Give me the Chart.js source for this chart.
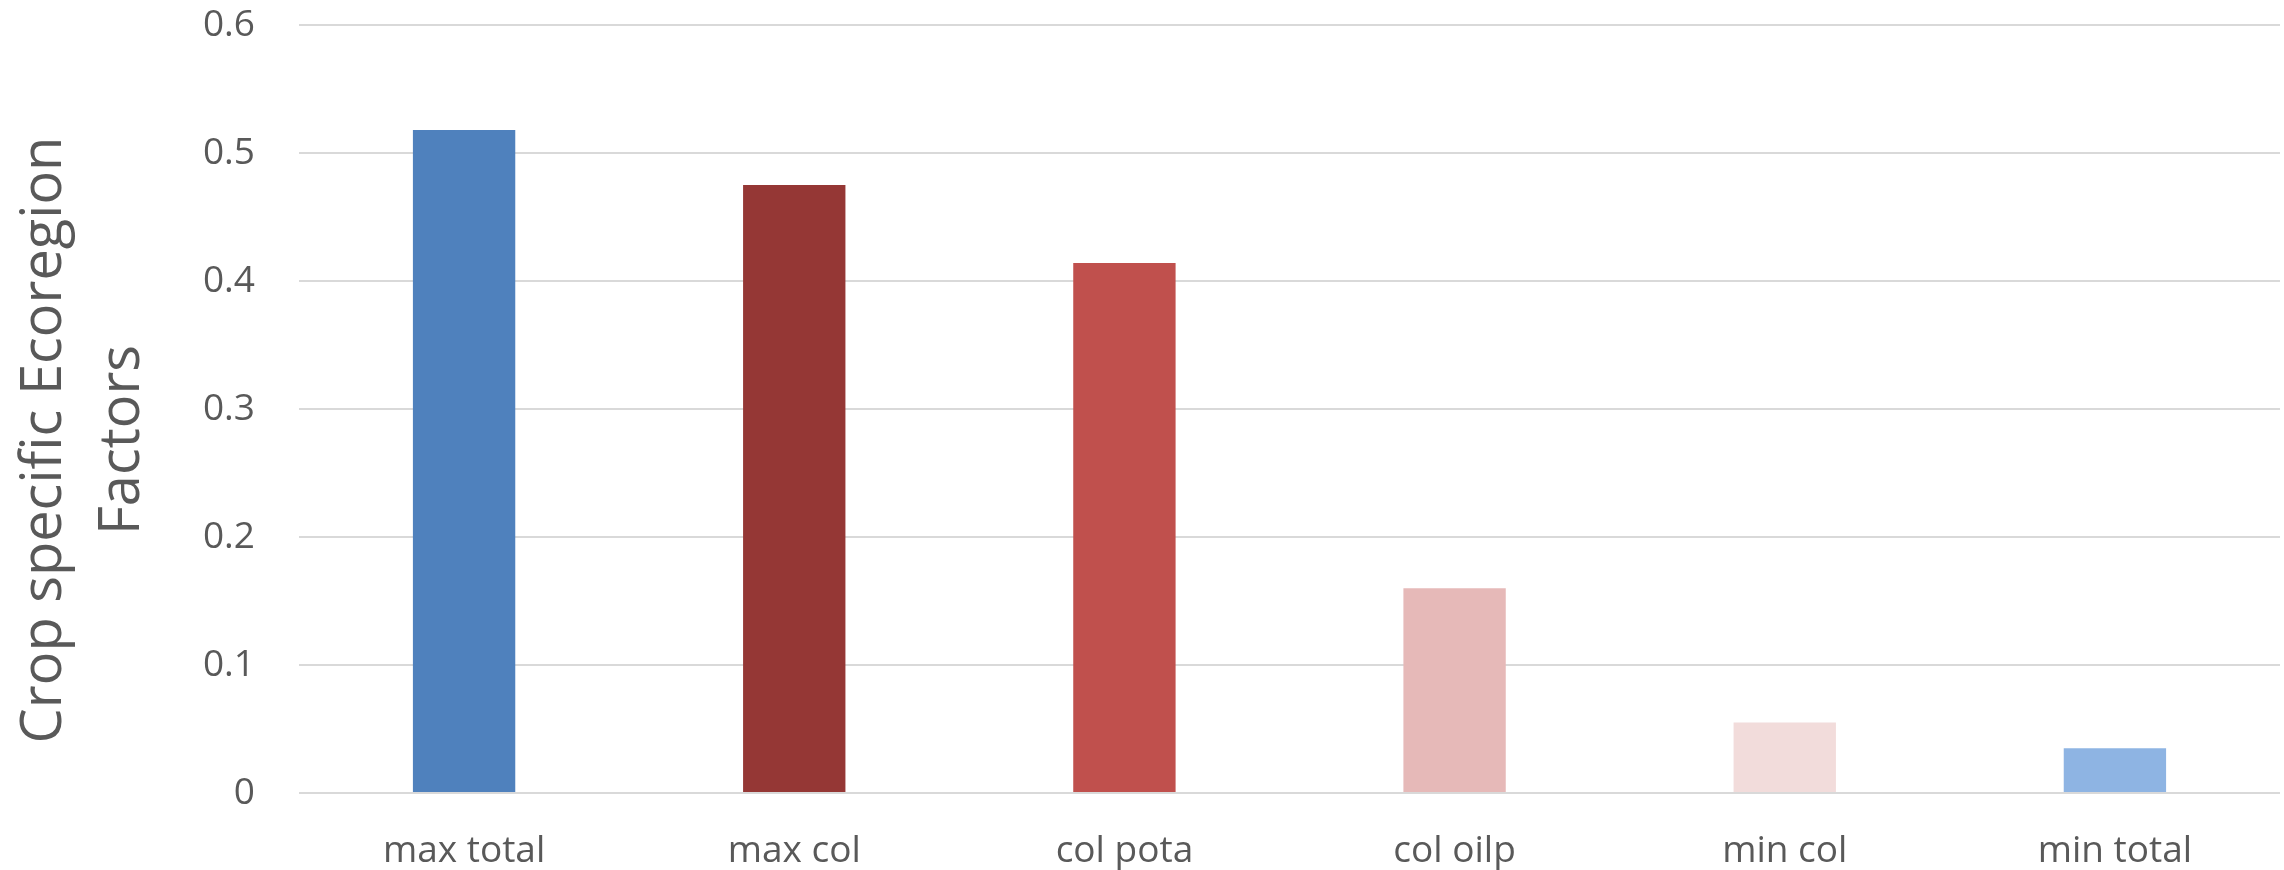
<!DOCTYPE html>
<html>
<head>
<meta charset="utf-8">
<title>Crop specific Ecoregion Factors</title>
<script src="https://cdn.jsdelivr.net/npm/chart.js@4.4.1/dist/chart.umd.min.js"></script>
<style>
  html, body { margin: 0; padding: 0; background: #ffffff; }
  #wrap { width: 2284px; height: 870px; }
  canvas { display: block; }
</style>
</head>
<body>
<div id="wrap"><canvas id="chart" width="2284" height="870"></canvas></div>
<script>
// Categories and factor values
const categories = ['max total', 'max col', 'col pota', 'col oilp', 'min col', 'min total'];
const factorValues = [0.518, 0.475, 0.414, 0.160, 0.055, 0.035];
const barColors = ['#4F81BD', '#953735', '#C0504D', '#E6B9B8', '#F2DCDB', '#8EB4E3'];
const yTitleLines = ['Crop specific Ecoregion', 'Factors'];
const yMin = 0, yMax = 0.6, yStep = 0.1;

const textColor = '#595959';
const gridColor = '#D9D9D9';

// Rotated two-line axis title, drawn left of the value labels
const yTitlePlugin = {
  id: 'yTitle',
  afterDraw(chart) {
    const ctx = chart.ctx;
    const area = chart.chartArea;
    const cy = (area.top + area.bottom) / 2 + 31;
    ctx.save();
    ctx.fillStyle = textColor;
    ctx.font = '400 56px "Open Sans"';
    ctx.textAlign = 'center';
    ctx.textBaseline = 'alphabetic';
    ctx.translate(0, cy);
    ctx.rotate(-Math.PI / 2);
    const baselines = [61, 139];
    yTitleLines.forEach((line, i) => ctx.fillText(line, 0, baselines[i]));
    ctx.restore();
  }
};

new Chart(document.getElementById('chart'), {
  type: 'bar',
  data: {
    labels: categories,
    datasets: [{
      data: factorValues,
      backgroundColor: barColors,
      borderWidth: 0,
      categoryPercentage: 1.0,
      barPercentage: 0.31
    }]
  },
  plugins: [yTitlePlugin],
  options: {
    responsive: false,
    devicePixelRatio: 1,
    animation: false,
    layout: { padding: { top: 0, right: 4, bottom: 0, left: 0 } },
    plugins: {
      legend: { display: false },
      tooltip: { enabled: false }
    },
    scales: {
      x: {
        afterFit: (scale) => { scale.height = 77; },
        grid: { display: false, drawTicks: false },
        border: { display: false },
        ticks: {
          color: textColor,
          padding: 36,
          font: { family: 'Open Sans', size: 37 }
        }
      },
      y: {
        min: yMin,
        max: yMax,
        afterFit: (scale) => {
          scale.width = 299;
          scale.paddingTop = 25;
          scale.paddingBottom = 0;
        },
        grid: { color: gridColor, lineWidth: 2, drawTicks: false },
        border: { display: false },
        ticks: {
          stepSize: yStep,
          color: textColor,
          padding: 44,
          font: { family: 'Open Sans', size: 37 },
          callback: (v) => String(+v.toFixed(1))
        }
      }
    }
  }
});
</script>
</body>
</html>
